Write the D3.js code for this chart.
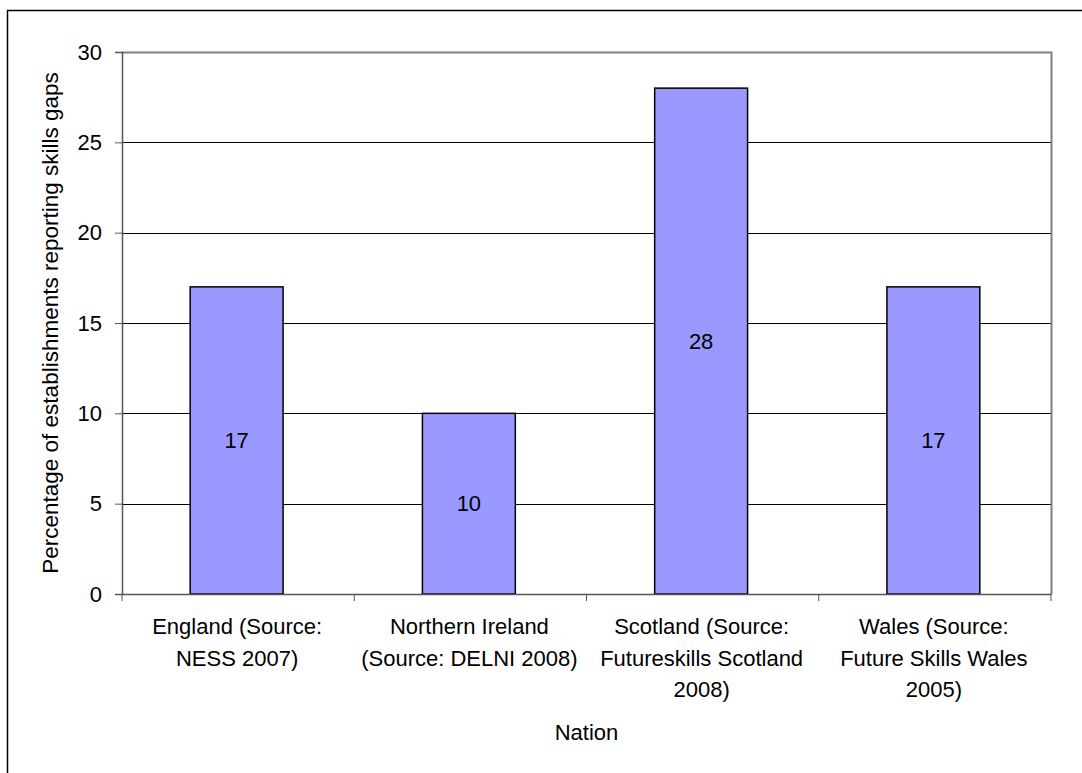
<!DOCTYPE html>
<html>
<head>
<meta charset="utf-8">
<script src="https://cdn.jsdelivr.net/npm/d3@7"></script>
<style>
  html, body { margin: 0; padding: 0; background: #fff; }
  svg { display: block; }
  text { font-family: "Liberation Sans", Arial, sans-serif; fill: #000; }
</style>
</head>
<body>
<svg id="chart" width="1082" height="773"></svg>
<script>
// Skills gaps by nation
const categories = [
  ["England (Source:", "NESS 2007)"],
  ["Northern Ireland", "(Source: DELNI 2008)"],
  ["Scotland (Source:", "Futureskills Scotland", "2008)"],
  ["Wales (Source:", "Future Skills Wales", "2005)"]
];
const values = [17, 10, 28, 17];
const yTicks = [0, 5, 10, 15, 20, 25, 30];
const xTitle = "Nation";
const yTitle = "Percentage of establishments reporting skills gaps";

const FS = 22;
const svg = d3.select("#chart");
const plotL = 122, plotR = 1051, plotT = 52, plotB = 594;

// Outer chart frame
svg.append("rect")
  .attr("x", 7.5).attr("y", 10.5)
  .attr("width", 1100).attr("height", 800)
  .attr("fill", "#fff").attr("stroke", "#000").attr("stroke-width", 1.5);

const x = d3.scaleBand()
  .domain(d3.range(categories.length))
  .range([plotL, plotR])
  .padding(0);

const y = d3.scaleLinear().domain([0, 30]).range([plotB, plotT]);

// Horizontal gridlines
svg.append("g")
  .selectAll("line")
  .data(yTicks.filter(t => t > 0 && t < 30))
  .join("line")
  .attr("x1", plotL).attr("x2", plotR)
  .attr("y1", d => Math.round(y(d)) + 0.5).attr("y2", d => Math.round(y(d)) + 0.5)
  .attr("stroke", "#000").attr("stroke-width", 1);

// Plot-area border (top and right)
svg.append("path")
  .attr("d", `M${plotL},${plotT + 0.5}H${plotR + 0.5}V${plotB}`)
  .attr("fill", "none").attr("stroke", "#808080").attr("stroke-width", 2);

// Bars
const barW = x.bandwidth() * 0.4;
svg.append("g")
  .selectAll("rect")
  .data(values)
  .join("rect")
  .attr("x", (d, i) => x(i) + (x.bandwidth() - barW) / 2 - 1.5)
  .attr("y", d => y(d))
  .attr("width", barW)
  .attr("height", d => y(0) - y(d))
  .attr("fill", "#9999FF")
  .attr("stroke", "#000").attr("stroke-width", 1.5);

// Value labels centred in each bar
svg.append("g")
  .selectAll("text")
  .data(values)
  .join("text")
  .attr("x", (d, i) => x(i) + x.bandwidth() / 2 - 1.5)
  .attr("y", d => (y(d) + y(0)) / 2)
  .attr("dy", "0.35em")
  .attr("text-anchor", "middle")
  .attr("font-size", FS)
  .text(d => d);

// Y axis
const yAxis = d3.axisLeft(y).tickValues(yTicks).tickSize(7).tickPadding(13);
const gy = svg.append("g").attr("transform", `translate(${plotL},0)`).call(yAxis);
gy.select(".domain").attr("stroke", "#555").attr("stroke-width", 1.5);
gy.selectAll(".tick line").attr("stroke", "#555");
gy.selectAll(".tick text").attr("font-size", FS).attr("font-family", "Liberation Sans, Arial, sans-serif");

// X axis
const xAxis = d3.axisBottom(x).tickValues([]).tickSize(0);
const gx = svg.append("g").attr("transform", `translate(0,${plotB})`).call(xAxis);
gx.select(".domain").attr("stroke", "#555").attr("stroke-width", 1.5);
gx.selectAll("line.sep")
  .data(d3.range(categories.length + 1))
  .join("line")
  .attr("class", "sep")
  .attr("x1", i => i < categories.length ? x(i) : plotR)
  .attr("x2", i => i < categories.length ? x(i) : plotR)
  .attr("y1", 0).attr("y2", 7)
  .attr("stroke", "#555").attr("stroke-width", 1);

// Category labels (multi-line)
const catG = svg.append("g");
categories.forEach((lines, i) => {
  const t = catG.append("text")
    .attr("text-anchor", "middle")
    .attr("font-size", FS);
  lines.forEach((ln, j) => {
    t.append("tspan")
      .attr("x", x(i) + x.bandwidth() / 2 - 1)
      .attr("y", 634 + j * 31.5)
      .text(ln);
  });
});

// Axis titles
svg.append("text")
  .attr("x", (plotL + plotR) / 2)
  .attr("y", 740)
  .attr("text-anchor", "middle")
  .attr("font-size", FS)
  .text(xTitle);

svg.append("text")
  .attr("transform", `translate(58,${(plotT + plotB) / 2}) rotate(-90)`)
  .attr("text-anchor", "middle")
  .attr("font-size", 22.5)
  .text(yTitle);
</script>
</body>
</html>
